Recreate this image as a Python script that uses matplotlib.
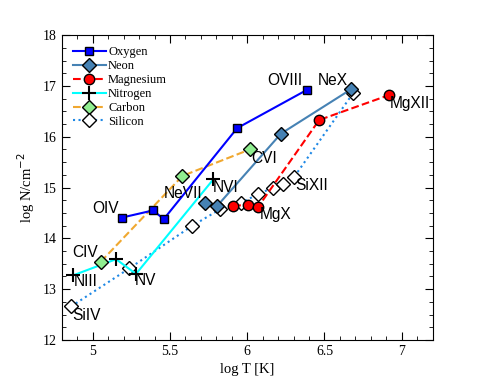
import matplotlib
matplotlib.use('Agg')
import matplotlib.pyplot as plt
from matplotlib.ticker import MultipleLocator

# data (log T, log N)
oxygen_T = [5.19, 5.39, 5.46, 5.935, 6.385]
oxygen_N = [14.41, 14.55, 14.38, 16.17, 16.92]

neon_T = [5.726, 5.806, 6.218, 6.675]
neon_N = [14.70, 14.64, 16.06, 16.94]

magnesium_T = [5.909, 6.003, 6.071, 6.466, 6.918]
magnesium_N = [14.64, 14.66, 14.62, 16.33, 16.82]

nitrogen_T = [4.871, 5.151, 5.28, 5.78]
nitrogen_N = [13.27, 13.59, 13.30, 15.16]

carbon_T = [5.052, 5.581, 6.017]
carbon_N = [13.54, 15.23, 15.75]

silicon_T = [4.86, 5.237, 5.64, 5.823, 5.959, 6.071, 6.168, 6.229, 6.304, 6.686]
silicon_N = [12.66, 13.41, 14.24, 14.57, 14.70, 14.87, 15.00, 15.07, 15.21, 16.86]

# ion labels: text, x, y (left edge, vertical center)
ion_labels = [
    ('OIV', 4.999, 14.59),
    ('NeVII', 5.457, 14.89),
    ('CIV', 4.87, 13.73),
    ('NIII', 4.88, 13.15),
    ('NV', 5.27, 13.17),
    ('SiIV', 4.87, 12.49),
    ('NVI', 5.78, 15.01),
    ('OVIII', 6.128, 17.10),
    ('NeX', 6.457, 17.10),
    ('MgXII', 6.923, 16.66),
    ('CVI', 6.028, 15.58),
    ('SiXII', 6.308, 15.05),
    ('MgX', 6.082, 14.46),
]

fig = plt.figure(figsize=(4.91, 3.82), dpi=100)
ax = fig.add_axes([0.126, 0.110, 0.755, 0.798])

ms_kw = dict(markeredgecolor='black', markeredgewidth=1.0)

ax.plot(oxygen_T, oxygen_N, '-', color='#0000ff', lw=1.5, marker='s',
        markersize=6, markerfacecolor='#0000ff', label='Oxygen', zorder=5, **ms_kw)
ax.plot(neon_T, neon_N, '-', color='#4682b4', lw=1.5, marker='D',
        markersize=7, markerfacecolor='#4682b4', label='Neon', zorder=5, **ms_kw)
ax.plot(magnesium_T, magnesium_N, '--', color='#ff0000', lw=1.5, marker='o',
        markersize=7.5, markerfacecolor='#ff0000', label='Magnesium', zorder=5, **ms_kw)
ax.plot(nitrogen_T, nitrogen_N, '-', color='#00ffff', lw=1.5, marker='+',
        markersize=10, markeredgecolor='black', markeredgewidth=1.5,
        label='Nitrogen', zorder=4)
ax.plot(carbon_T, carbon_N, '--', color='#f0a830', lw=1.5, marker='D',
        markersize=7, markerfacecolor='#90ee90', label='Carbon', zorder=4, **ms_kw)
ax.plot(silicon_T, silicon_N, ':', color='#1e88e5', lw=1.5, marker='D',
        markersize=7, markerfacecolor='white', label='Silicon', zorder=3, **ms_kw)

for txt, x, y in ion_labels:
    t = ax.text(x, y, txt, fontsize=11.2, family='Liberation Sans',
                ha='left', va='center', zorder=6, clip_on=True)
    t.set_clip_box(ax.bbox)

ax.set_xlim(4.8, 7.2)
ax.set_ylim(12, 18)
ax.xaxis.set_minor_locator(MultipleLocator(0.1))
ax.yaxis.set_major_locator(MultipleLocator(1))
ax.yaxis.set_minor_locator(MultipleLocator(0.25))
ax.set_xticks([5, 5.5, 6, 6.5, 7])
ax.set_xticklabels(['5', '5.5', '6', '6.5', '7'])
ax.tick_params(which='both', direction='in', top=True, right=True,
               labelsize=10, labelfontfamily='Liberation Serif')
ax.tick_params(which='major', length=6)
ax.tick_params(which='minor', length=3)

ax.set_xlabel('log T [K]', family='Liberation Serif', fontsize=10.5)
ax.set_ylabel('log N/cm$^{-2}$', family='Liberation Serif', fontsize=10.5)

ax.legend(loc='upper left', frameon=False,
          prop={'family': 'Liberation Serif', 'size': 9},
          handlelength=2.6, labelspacing=0.15, borderaxespad=0.5,
          handletextpad=0.2)

fig.savefig('out.png', dpi=100)
